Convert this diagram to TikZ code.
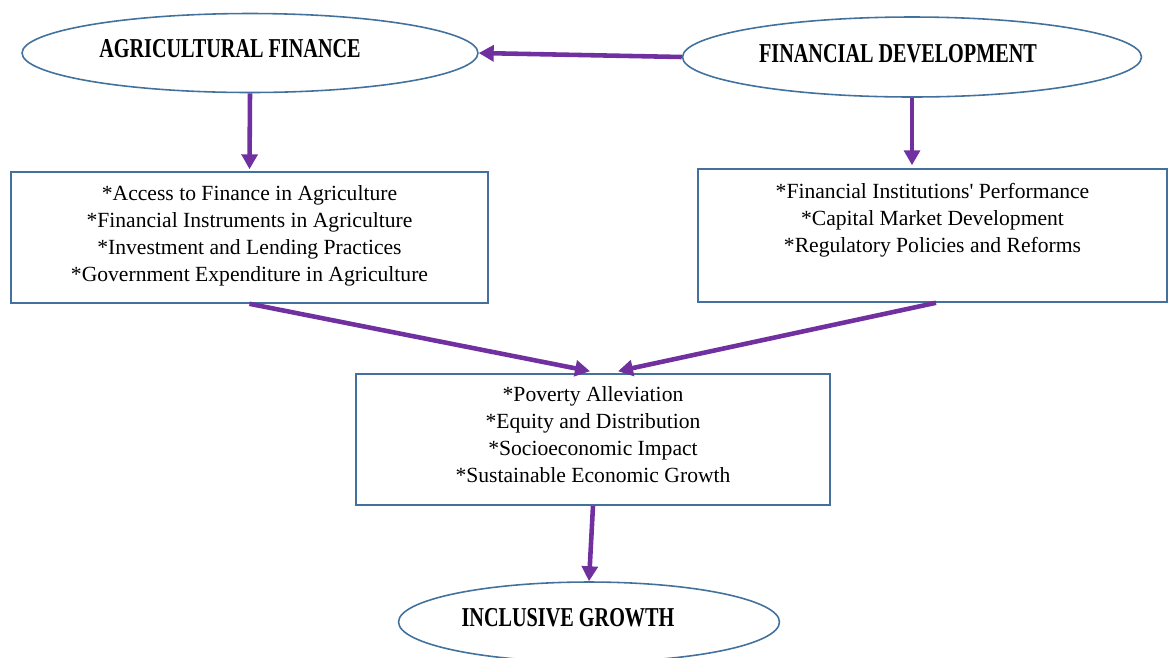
\documentclass[tikz,border=0pt]{standalone}
\usepackage{fontspec}
\setmainfont{Liberation Serif}
\usetikzlibrary{shapes.geometric,arrows.meta,positioning}
\definecolor{boxblue}{HTML}{41719C}
\definecolor{arrowpurple}{HTML}{7030A0}
\newcommand{\ovaltext}[1]{\scalebox{1}[1.35]{\bfseries #1}}

\begin{document}
\begin{tikzpicture}[x=0.02cm,y=-0.02cm,
    oval/.style={ellipse,draw=boxblue,line width=0.9pt,inner sep=0pt},
    ovaltitle/.style={font=\fontsize{11.5}{12}\selectfont,inner sep=0pt},
    infobox/.style={rectangle,draw=boxblue,line width=0.9pt,inner sep=0pt},
    boxtext/.style={align=center,inner sep=0pt,font=\fontsize{12.3}{15.3}\selectfont},
    link/.style={draw=arrowpurple,line width=2.6pt,-{Triangle[length=8.5pt,width=9pt]}}]
    \useasboundingbox (0,0) rectangle (1168,657);
    % TOP OVALS
    \node [oval,minimum width=9.12cm,minimum height=1.58cm,
        label={[ovaltitle,xshift=-0.4cm,yshift=0.08cm]center:\ovaltext{AGRICULTURAL FINANCE}}] (afin) at (250,53) {};
    \node [oval,minimum width=9.18cm,minimum height=1.6cm,
        label={[ovaltitle,xshift=-0.28cm,yshift=0.06cm]center:\ovaltext{FINANCIAL DEVELOPMENT}}] (fdev) at (912,57) {};
    % MIDDLE BOXES
    \node [infobox,minimum width=9.54cm,minimum height=2.62cm] (afbox) at (249.5,237.5) {};
    \node [boxtext,below=0.28cm of afbox.north] (aftext)
        {*Access to Finance in Agriculture\\ *Financial Instruments in Agriculture\\
         *Investment and Lending Practices\\ *Government Expenditure in Agriculture};
    \node [infobox,minimum width=9.38cm,minimum height=2.66cm] (fdbox) at (932.5,235.5) {};
    \node [boxtext,below=0.3cm of fdbox.north] (fdtext)
        {*Financial Institutions\textquotesingle\ Performance\\ *Capital Market Development\\
         *Regulatory Policies and Reforms};
    \node [infobox,minimum width=9.48cm,minimum height=2.62cm] (midbox) at (593,439.5) {};
    \node [boxtext,below=0.26cm of midbox.north] (midtext)
        {*Poverty Alleviation\\ *Equity and Distribution\\
         *Socioeconomic Impact\\ *Sustainable Economic Growth};
    % BOTTOM OVAL
    \node [oval,minimum width=7.62cm,minimum height=1.6cm,
        label={[ovaltitle,xshift=-0.42cm,yshift=0.08cm]center:\ovaltext{INCLUSIVE GROWTH}}] (igrow) at (589,622) {};
    % ARROWS
    \draw [link] (fdev.west) -- (afin.east);
    \draw [link] (afin.south) -- ([yshift=0.04cm]afbox.north);
    \draw [link] (fdev.south) -- ([yshift=0.06cm]fdev.south |- fdbox.north);
    \draw [link] (afbox.south) -- ([xshift=-0.06cm,yshift=0.04cm]midbox.north);
    \draw [link] ([xshift=0.07cm]fdbox.south) -- ([xshift=0.5cm,yshift=0.04cm]midbox.north);
    \draw [link] (midbox.south) -- (igrow.north);
\end{tikzpicture}
\end{document}
